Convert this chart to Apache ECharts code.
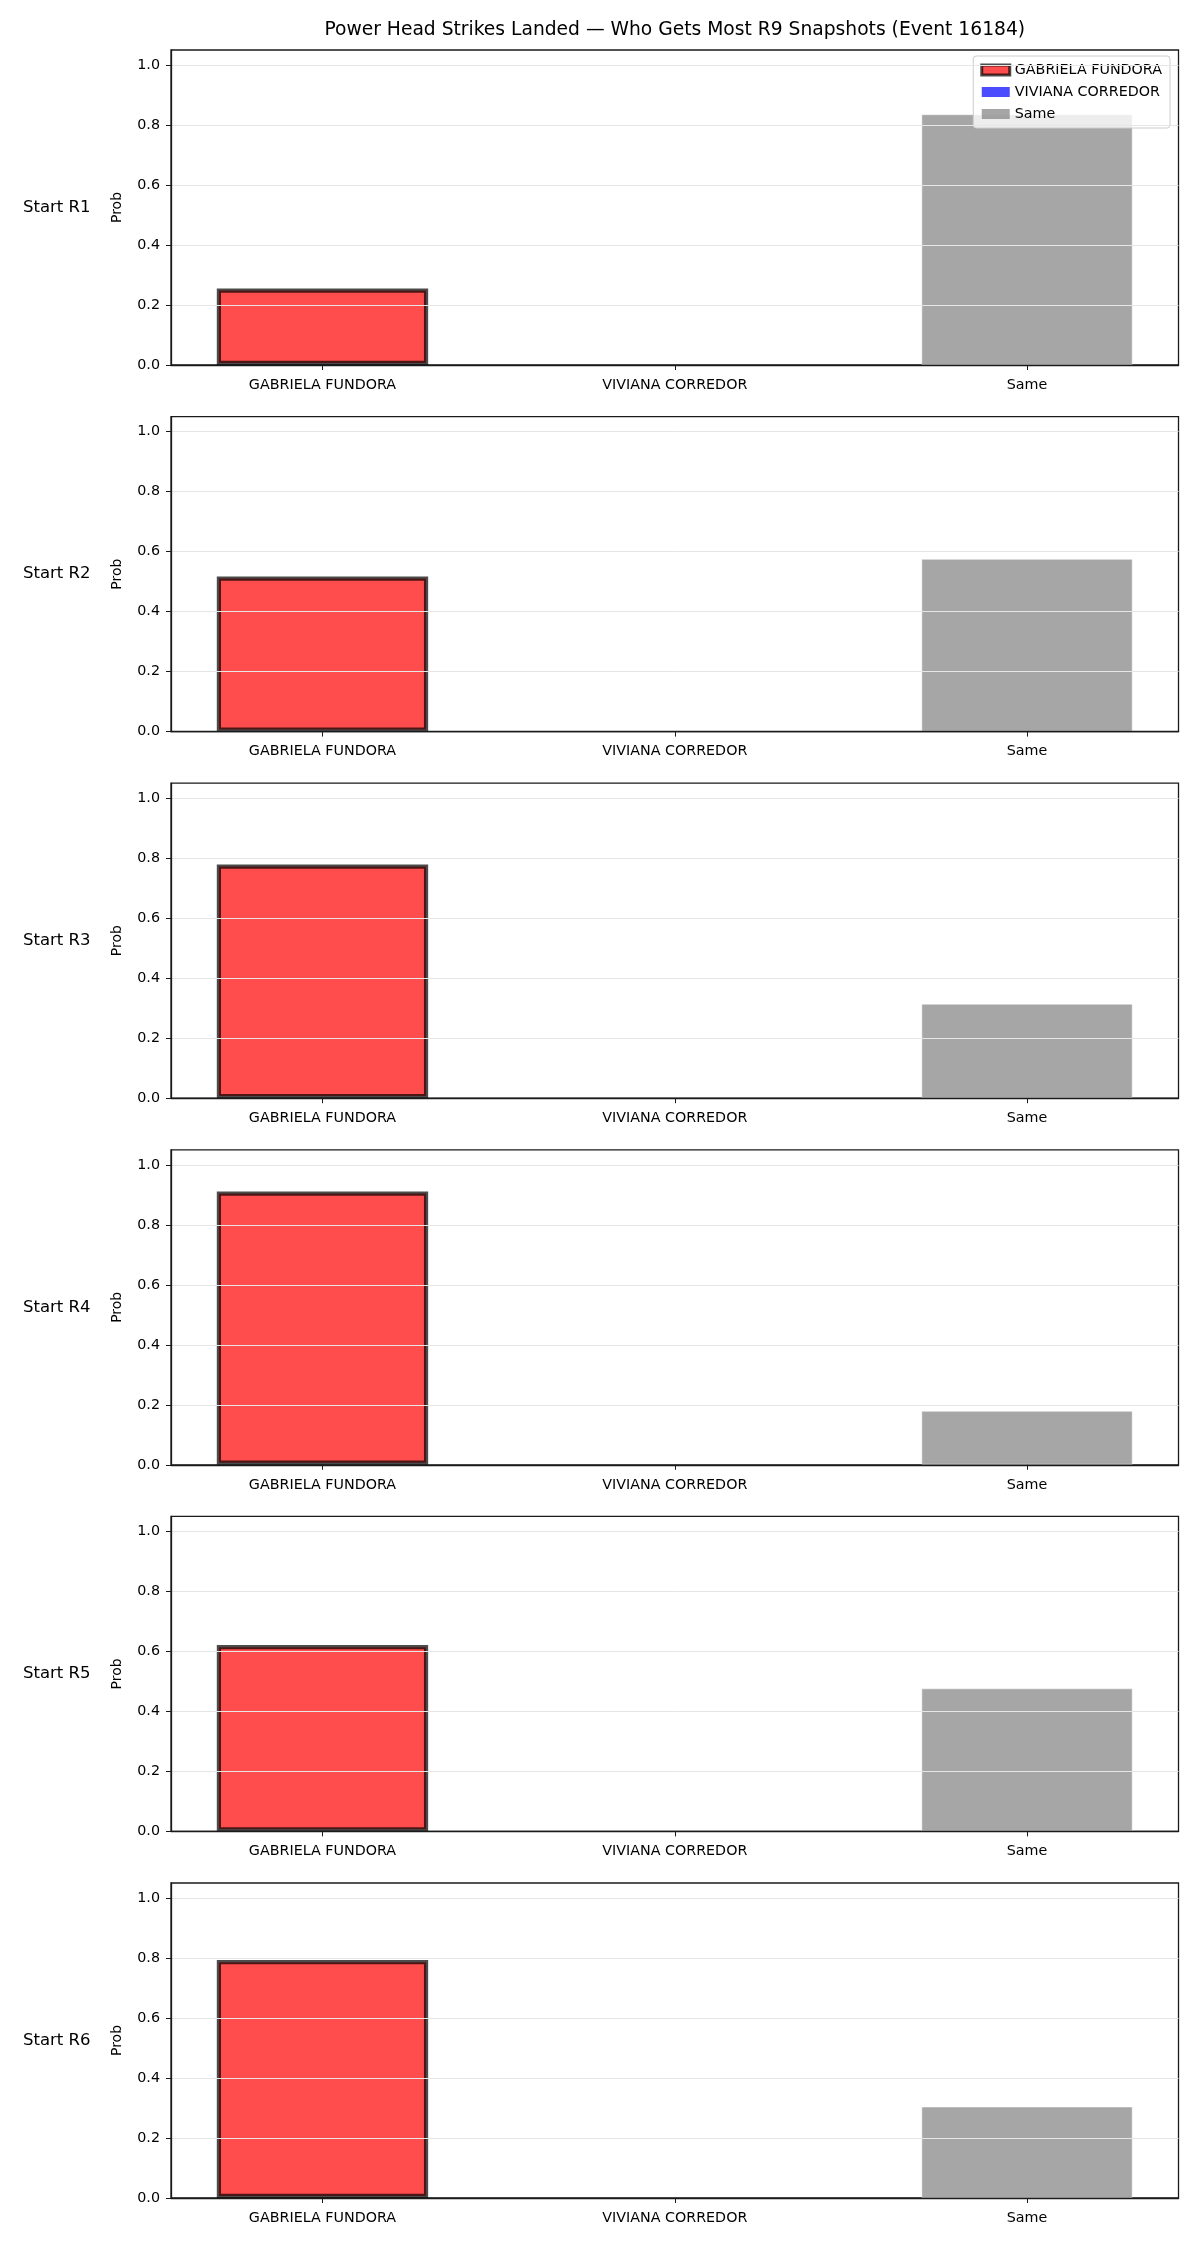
<!DOCTYPE html>
<html>
<head>
<meta charset="utf-8">
<script src="https://cdn.jsdelivr.net/npm/echarts@6/dist/echarts.min.js"></script>
<style>
html,body{margin:0;padding:0;background:#fff;}
#chart{width:1200px;height:2250px;}
</style>
</head>
<body>
<div id="chart"></div>
<script>
const titleText = 'Power Head Strikes Landed \u2014 Who Gets Most R9 Snapshots (Event 16184)';
const categories = ['GABRIELA FUNDORA', 'VIVIANA CORREDOR', 'Same'];
const panelLabels = ['Start R1', 'Start R2', 'Start R3', 'Start R4', 'Start R5', 'Start R6'];
const gabriela = [0.255, 0.517, 0.779, 0.911, 0.621, 0.793];
const viviana  = [0, 0, 0, 0, 0, 0];
const same     = [0.836, 0.576, 0.315, 0.180, 0.477, 0.305];
const yTicks = [0, 0.2, 0.4, 0.6, 0.8, 1.0];
const yAxisName = 'Prob';

const FONT = 'DejaVu Sans';
const gridLeft = 171, gridRight = 1178.5, gridH = 315, top0 = 50, step = 366.6;
const xMin = -0.43, xMax = 2.43;
const unitPx = (gridRight - gridLeft) / (xMax - xMin);
const barW = 0.6 * unitPx;

const chart = echarts.init(document.getElementById('chart'), null, {renderer: 'canvas'});

const grids = [], xAxes = [], yAxes = [], series = [], graphics = [];

graphics.push({
  type: 'text', x: (gridLeft + gridRight) / 2, y: 30, z: 10,
  style: {text: titleText, font: '18.7px "DejaVu Sans"', fill: '#000', align: 'center', verticalAlign: 'middle'}
});

panelLabels.forEach((lab, i) => {
  const top = top0 + i * step;
  grids.push({left: gridLeft, width: gridRight - gridLeft, top: top, height: gridH,
    show: true, borderColor: '#1a1a1a', borderWidth: 1.3, backgroundColor: 'transparent'});
  xAxes.push({
    type: 'value', gridIndex: i, min: xMin, max: xMax, z: 10,
    axisLine: {show: true, onZero: false, lineStyle: {color: '#1a1a1a', width: 1.3}},
    axisTick: {show: true, length: 5, customValues: [0, 1, 2], lineStyle: {color: '#1a1a1a', width: 1}},
    axisLabel: {show: true, customValues: [0, 1, 2], margin: 13, fontFamily: FONT, fontSize: 14.3, color: '#000',
      formatter: v => categories[Math.round(v)] || ''},
    splitLine: {show: false}
  });
  yAxes.push({
    type: 'value', gridIndex: i, min: 0, max: 1.05, interval: 0.2, z: 10,
    name: yAxisName, nameLocation: 'middle', nameRotate: 90, nameGap: 47,
    nameTextStyle: {fontFamily: FONT, fontSize: 14, color: '#000'},
    axisLine: {show: true, onZero: false, lineStyle: {color: '#1a1a1a', width: 1.3}},
    axisTick: {show: true, length: 5, customValues: yTicks, lineStyle: {color: '#1a1a1a', width: 1}},
    axisLabel: {show: true, customValues: yTicks, margin: 11, fontFamily: FONT, fontSize: 14.3, color: '#000',
      formatter: v => v.toFixed(1)},
    splitLine: {show: true, lineStyle: {color: '#e6e6e6', width: 1}}
  });
  series.push({
    name: categories[0], type: 'bar', xAxisIndex: i, yAxisIndex: i, barWidth: barW, barGap: '-100%',
    itemStyle: {color: 'rgba(255,0,0,0.7)', borderColor: 'rgba(0,0,0,0.7)', borderWidth: 4.2},
    data: [[0, gabriela[i]]], silent: true
  });
  series.push({
    name: categories[1], type: 'bar', xAxisIndex: i, yAxisIndex: i, barWidth: barW, barGap: '-100%',
    itemStyle: {color: 'rgba(0,0,255,0.7)'},
    data: [[1, viviana[i]]], silent: true
  });
  series.push({
    name: categories[2], type: 'bar', xAxisIndex: i, yAxisIndex: i, barWidth: barW, barGap: '-100%',
    itemStyle: {color: 'rgba(128,128,128,0.7)', borderColor: 'rgba(255,255,255,0.5)', borderWidth: 1},
    data: [[2, same[i]]], silent: true
  });
  graphics.push({
    type: 'text', x: 23, y: top + gridH / 2, z: 10,
    style: {text: lab, font: '16.5px "DejaVu Sans"', fill: '#000', align: 'left', verticalAlign: 'middle'}
  });
});

const option = {
  animation: false,
  backgroundColor: '#fff',
  grid: grids,
  xAxis: xAxes,
  yAxis: yAxes,
  series: series,
  graphic: graphics,
  legend: {
    orient: 'vertical', right: 30, top: 56,
    padding: [7, 8, 7, 7], itemGap: 8, itemWidth: 28, itemHeight: 10, itemTextGap: 12,
    backgroundColor: 'rgba(255,255,255,0.8)', borderColor: '#cccccc', borderWidth: 1, borderRadius: 3,
    textStyle: {fontFamily: FONT, fontSize: 14.3, color: '#000'},
    selectedMode: false,
    data: [
      {name: categories[0], icon: 'rect', itemStyle: {borderWidth: 3}},
      {name: categories[1], icon: 'rect'},
      {name: categories[2], icon: 'rect', itemStyle: {borderWidth: 0}}
    ]
  }
};
chart.setOption(option);
</script>
</body>
</html>
